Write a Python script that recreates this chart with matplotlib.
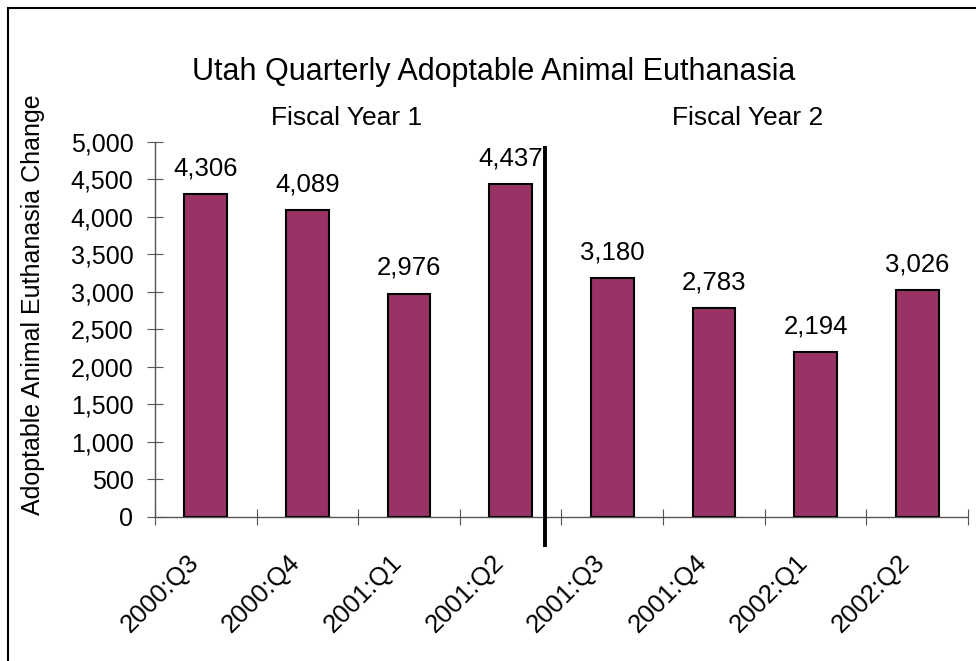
from matplotlib import pyplot as plt
from matplotlib.patches import Rectangle
from matplotlib.ticker import FuncFormatter, FixedLocator
from matplotlib.transforms import ScaledTranslation
import numpy as np

quarters = ['2000:Q3', '2000:Q4', '2001:Q1', '2001:Q2',
            '2001:Q3', '2001:Q4', '2002:Q1', '2002:Q2']
euthanasia = [4306, 4089, 2976, 4437, 3180, 2783, 2194, 3026]
fiscal_labels = ['Fiscal Year 1', 'Fiscal Year 2']

BAR_COLOR = '#993366'
AXIS_COLOR = '#555555'


def main():
    plt.rcParams['font.family'] = ['Liberation Sans', 'DejaVu Sans']

    fig = plt.figure(figsize=(9.76, 6.61), dpi=100)
    ax = fig.add_axes([0.1588, 0.2179, 0.8330, 0.5673])

    x = np.arange(len(quarters))
    ax.bar(x, euthanasia, width=0.42, color=BAR_COLOR,
           edgecolor='black', linewidth=1.5, zorder=3)

    for xi, v in zip(x, euthanasia):
        ax.annotate(f'{v:,}', (xi, v), xytext=(0, 10),
                    textcoords='offset points', ha='center', va='bottom',
                    fontsize=18.5)

    ax.set_xlim(-0.5, len(quarters) - 0.5)
    ax.set_ylim(0, 5000)

    # ticks sit between categories, labels at the bar centres
    ax.xaxis.set_major_locator(FixedLocator(np.arange(len(quarters) + 1) - 0.5))
    ax.xaxis.set_major_formatter(plt.NullFormatter())
    ax.set_xticks(x, minor=True)
    ax.set_xticklabels(quarters, minor=True, rotation=45, ha='right',
                       va='center', rotation_mode='anchor', fontsize=18.5)
    ax.tick_params(axis='x', which='minor', length=0, pad=30)
    ax.tick_params(axis='x', which='major', direction='inout', length=12,
                   color=AXIS_COLOR)
    shift = ScaledTranslation(-0.11, 0, fig.dpi_scale_trans)
    for lbl in ax.get_xticklabels(minor=True):
        lbl.set_transform(lbl.get_transform() + shift)

    ax.set_yticks(np.arange(0, 5001, 500))
    ax.yaxis.set_major_formatter(FuncFormatter(lambda v, p: f'{int(v):,}'))
    ax.tick_params(axis='y', direction='inout', length=11, color=AXIS_COLOR,
                   labelsize=18, pad=10)

    for side in ['top', 'right']:
        ax.spines[side].set_visible(False)
    for side in ['left', 'bottom']:
        ax.spines[side].set_color(AXIS_COLOR)
        ax.spines[side].set_linewidth(1.0)

    # fiscal year divider
    ax.plot([3.338, 3.338], [-0.075, 0.984], color='black', lw=2.8,
            transform=ax.get_xaxis_transform(), clip_on=False, zorder=4)

    ax.text(1.39, 1.064, fiscal_labels[0], transform=ax.get_xaxis_transform(),
            ha='center', va='center', fontsize=19)
    ax.text(5.33, 1.064, fiscal_labels[1], transform=ax.get_xaxis_transform(),
            ha='center', va='center', fontsize=19)

    fig.text(0.506, 0.891, 'Utah Quarterly Adoptable Animal Euthanasia',
             ha='center', va='center', fontsize=22)
    fig.text(33 / 976, 0.539, 'Adoptable Animal Euthanasia Change',
             rotation=90, ha='center', va='center', fontsize=18)

    # chart area border
    fig.patches.append(Rectangle((8 / 976, -0.1), 1.2, 1.1 - 8 / 661,
                                 transform=fig.transFigure, fill=False,
                                 edgecolor='black', linewidth=1.5))

    fig.savefig('out.png', dpi=100)


if __name__ == '__main__':
    main()
